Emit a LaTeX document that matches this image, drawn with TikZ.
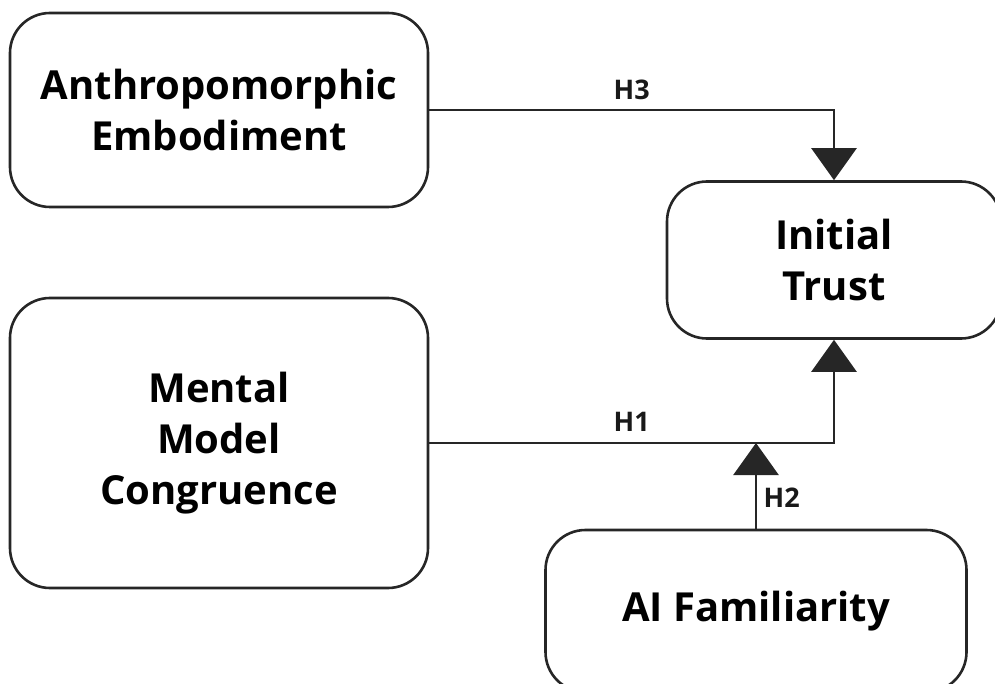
\documentclass[tikz,border=0pt]{standalone}
\usepackage{fontspec}
\setmainfont{Open Sans}
\usetikzlibrary{arrows.meta}

\tikzset{
  varbox/.style={draw=black!85, line width=2.6pt, rounded corners=40pt, align=center,
                 inner sep=0pt, font=\fontsize{40}{51}\selectfont\bfseries},
  hlink/.style={line width=2.6pt, draw=black!85, -{Triangle[width=45pt, length=32pt]}},
  hlabel/.style={font=\fontsize{27}{30}\selectfont\bfseries, text=black!90}
}

\begin{document}
\begin{tikzpicture}[x=1pt, y=-1pt]
  \useasboundingbox (0,0) rectangle (995,684);

  \foreach \nm/\cx/\cy/\bw/\bh/\txt in {
    anthro/219/110/418/194/{Anthropomorphic\\ Embodiment},
    mental/219/443/418/290/{Mental\\ Model\\ Congruence},
    trust/834/260/334/157/{Initial\\ Trust},
    aifam/756/611/421/162/{AI Familiarity}} {
    \node[varbox, minimum width=\bw pt, minimum height=\bh pt] (\nm) at (\cx,\cy) {\txt};
  }

  \coordinate (h2tip) at (aifam.north |- mental.east);

  \draw[hlink] (anthro.east) -| (trust.north) node[pos=0.25, above=6pt, hlabel] {H3};
  \draw[hlink] (mental.east) -| (trust.south) node[pos=0.25, above=7pt, hlabel] {H1};
  \draw[hlink] (aifam.north) -- (h2tip) node[pos=0.36, right=3pt, hlabel] {H2};
\end{tikzpicture}
\end{document}
